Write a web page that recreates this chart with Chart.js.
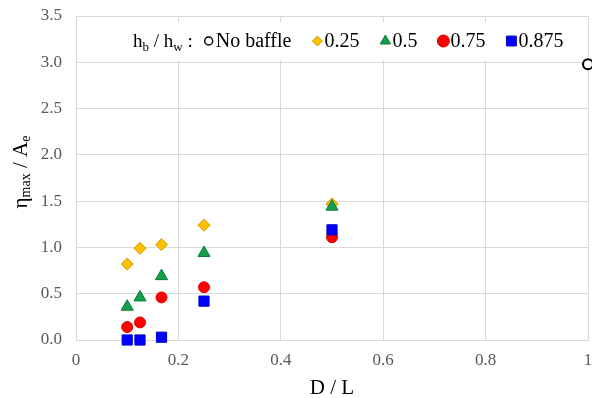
<!DOCTYPE html>
<html>
<head>
<meta charset="utf-8">
<script src="https://cdn.jsdelivr.net/npm/chart.js@4/dist/chart.umd.min.js"></script>
<style>
  html, body { margin: 0; padding: 0; background: #fff; }
  #wrap { width: 592px; height: 398px; }
</style>
</head>
<body>
<div id="wrap"><canvas id="chart" width="592" height="398"></canvas></div>
<script>
// data
const dlValues = [0.1, 0.125, 0.167, 0.25, 0.5];
const noBaffleX = [1];
const noBaffleY = [2.98];
const ratio025 = [0.82, 0.99, 1.03, 1.24, 1.47];
const ratio05 = [0.36, 0.46, 0.69, 0.94, 1.44];
const ratio075 = [0.14, 0.19, 0.46, 0.57, 1.11];
const ratio0875 = [0.0, 0.0, 0.03, 0.42, 1.19];
const seriesLabels = ["No baffle", "0.25", "0.5", "0.75", "0.875"];
const xTicks = [0, 0.2, 0.4, 0.6, 0.8, 1];
const yTicks = [0, 0.5, 1, 1.5, 2, 2.5, 3, 3.5];

const serif = "'Liberation Serif', 'Times New Roman', serif";
const gridColor = "#d9d9d9";

function points(xs, ys) {
  return xs.map((x, i) => ({ x: x, y: ys[i] }));
}

const datasets = [
  {
    label: seriesLabels[0],
    data: points(noBaffleX, noBaffleY),
    pointStyle: "circle",
    pointRadius: 5,
    backgroundColor: "#ffffff",
    borderColor: "#000000",
    borderWidth: 2,
    order: 5,
  },
  {
    label: seriesLabels[1],
    data: points(dlValues, ratio025),
    pointStyle: "rectRot",
    pointRadius: 6,
    backgroundColor: "#ffc000",
    borderColor: "#d09a00",
    borderWidth: 1,
    order: 4,
  },
  {
    label: seriesLabels[2],
    data: points(dlValues, ratio05),
    pointStyle: "triangle",
    pointRadius: 7,
    backgroundColor: "#13a04a",
    borderColor: "#0c7a36",
    borderWidth: 1,
    order: 3,
  },
  {
    label: seriesLabels[3],
    data: points(dlValues, ratio075),
    pointStyle: "circle",
    pointRadius: 5.5,
    backgroundColor: "#ff0000",
    borderColor: "#e00000",
    borderWidth: 1,
    order: 2,
  },
  {
    label: seriesLabels[4],
    data: points(dlValues, ratio0875),
    pointStyle: "rect",
    pointRadius: 7.2,
    backgroundColor: "#0000ff",
    borderColor: "#0000c8",
    borderWidth: 1,
    order: 1,
  },
];
datasets.forEach((d) => { d.clip = false; d.pointHoverRadius = d.pointRadius; });

function drawMarker(ctx, style, radius, x, y, fill, stroke, bw) {
  ctx.save();
  ctx.fillStyle = fill;
  ctx.strokeStyle = stroke;
  ctx.lineWidth = bw;
  Chart.helpers.drawPoint(ctx, { pointStyle: style, rotation: 0, radius: radius, borderWidth: bw }, x, y);
  ctx.restore();
}

// text with subscripts: parts = [[text, isSub], ...]
function partsWidth(ctx, parts, big, small) {
  let w = 0;
  parts.forEach(([t, sub]) => {
    ctx.font = (sub ? small : big) + "px " + serif;
    w += ctx.measureText(t).width;
  });
  return w;
}
function drawParts(ctx, parts, x, y, big, small, drop) {
  parts.forEach(([t, sub]) => {
    ctx.font = (sub ? small : big) + "px " + serif;
    ctx.fillText(t, x, sub ? y + drop : y);
    x += ctx.measureText(t).width;
  });
  return x;
}

const decorations = {
  id: "decorations",
  beforeDatasetsDraw(chart) {
    const ctx = chart.ctx;
    const area = chart.chartArea;
    // legend box inside the plot
    ctx.save();
    ctx.fillStyle = "#ffffff";
    ctx.fillRect(area.left + 30, area.top + 6, area.right - area.left - 38, 38);
    ctx.fillStyle = "#000000";
    ctx.textBaseline = "alphabetic";
    const baseY = area.top + 31;
    let x = drawParts(ctx, [["h", false], ["b", true], [" / h", false], ["w", true], [" :", false]],
      area.left + 57, baseY, 19, 13, 4);
    x += 11;
    const legendRadius = [4, 5, 6, 6, 7];
    const legendBorder = [1.5, 1, 1, 1, 1];
    chart.data.datasets.forEach((d, i) => {
      drawMarker(ctx, d.pointStyle, legendRadius[i], x + 5, baseY - 6,
        d.backgroundColor, d.borderColor, legendBorder[i]);
      x += 12;
      ctx.fillStyle = "#000000";
      ctx.font = "20px " + serif;
      ctx.fillText(d.label, x, baseY);
      x += ctx.measureText(d.label).width + 21;
    });
    ctx.restore();
  },
  afterDraw(chart) {
    const ctx = chart.ctx;
    const area = chart.chartArea;
    ctx.save();
    ctx.fillStyle = "#000000";
    // x title
    ctx.font = "21px " + serif;
    ctx.textAlign = "center";
    ctx.textBaseline = "middle";
    ctx.fillText("D / L", (area.left + area.right) / 2, 388);
    // y title, rotated
    ctx.translate(21, 172);
    ctx.rotate(-Math.PI / 2);
    ctx.textAlign = "left";
    ctx.textBaseline = "middle";
    const parts = [["η", false], ["max", true], [" / A", false], ["e", true]];
    const w = partsWidth(ctx, parts, 21, 14);
    drawParts(ctx, parts, -w / 2, 0, 21, 14, 5);
    ctx.restore();
  },
};

new Chart(document.getElementById("chart"), {
  type: "scatter",
  data: { datasets: datasets },
  plugins: [decorations],
  options: {
    responsive: false,
    animation: false,
    events: [],
    layout: { autoPadding: false, padding: { top: 16, right: 4, left: 0, bottom: 0 } },
    plugins: { legend: { display: false }, tooltip: { enabled: false } },
    scales: {
      x: {
        type: "linear",
        min: xTicks[0],
        max: xTicks[xTicks.length - 1],
        afterBuildTicks: (s) => { s.ticks = xTicks.map((v) => ({ value: v })); },
        afterFit: (s) => { s.height = 58; s.paddingLeft = 0; s.paddingRight = 0; },
        ticks: {
          padding: 10,
          color: "#595959",
          font: { family: serif, size: 17 },
          callback: (v) => String(+v.toFixed(1)),
        },
        grid: { color: gridColor, lineWidth: 1, drawTicks: false },
        border: { color: gridColor, width: 1 },
      },
      y: {
        type: "linear",
        min: yTicks[0],
        max: yTicks[yTicks.length - 1],
        afterBuildTicks: (s) => { s.ticks = yTicks.map((v) => ({ value: v })); },
        afterFit: (s) => { s.width = 76; s.paddingTop = 0; s.paddingBottom = 0; },
        ticks: {
          padding: 14,
          color: "#595959",
          font: { family: serif, size: 17 },
          callback: (v) => v.toFixed(1),
        },
        grid: { color: gridColor, lineWidth: 1, drawTicks: false },
        border: { color: gridColor, width: 1 },
      },
    },
  },
});
</script>
</body>
</html>
